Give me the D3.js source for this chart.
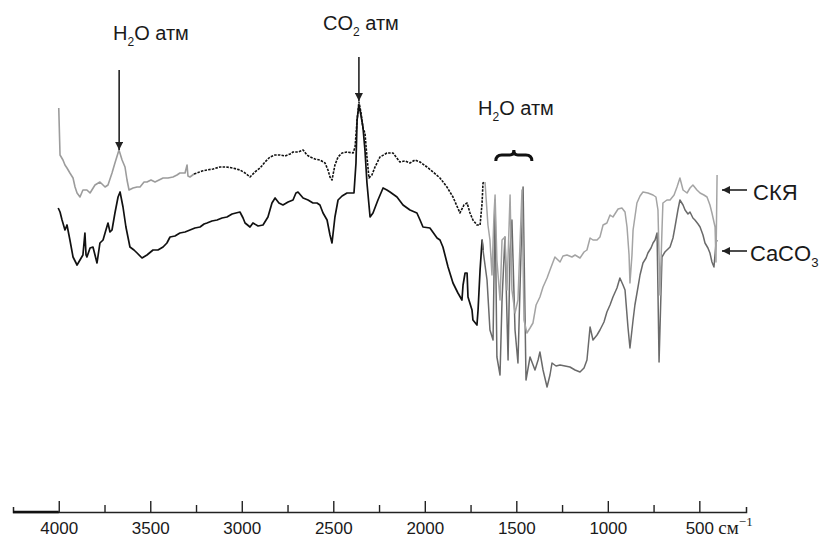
<!DOCTYPE html>
<html>
<head>
<meta charset="utf-8">
<script src="https://cdn.jsdelivr.net/npm/d3@7"></script>
<style>
  html, body { margin: 0; padding: 0; background: #fff; }
  svg text { font-family: "Liberation Sans", Arial, sans-serif; fill: #1a1a1a; }
</style>
</head>
<body>
<div id="spectra"></div>
<script>
// СКЯ (upper trace): wavenumber, cm-1 / transmittance, a.u.
const skyaWn = [4000, 3993, 3977, 3966, 3955, 3939, 3922, 3911, 3900, 3884, 3868, 3846, 3829, 3802, 3775, 3747, 3731, 3709, 3693, 3671,
  3654, 3638, 3627, 3616, 3594, 3572, 3556, 3534, 3518, 3496, 3474, 3452, 3430, 3403, 3376, 3354, 3338, 3310, 3299, 3294,
  3283, 3261, 3245, 3217, 3190, 3157, 3119, 3086, 3048, 3010, 2982, 2955, 2928, 2900, 2873, 2846, 2818, 2791, 2764, 2736,
  2720, 2693, 2665, 2644, 2627, 2600, 2573, 2545, 2529, 2518, 2507, 2491, 2474, 2452, 2425, 2392, 2381, 2370, 2360, 2349,
  2338, 2327, 2316, 2305, 2289, 2272, 2245, 2207, 2174, 2136, 2108, 2081, 2054, 2026, 1988, 1955, 1917, 1879, 1846, 1808,
  1786, 1769, 1753, 1737, 1715, 1698, 1687, 1682, 1671, 1655, 1644, 1633, 1622, 1616, 1606, 1589, 1578, 1562, 1551, 1534,
  1524, 1507, 1491, 1469, 1458, 1442, 1425, 1409, 1392, 1371, 1354, 1332, 1316, 1289, 1261, 1245, 1223, 1196, 1179, 1152,
  1130, 1114, 1097, 1081, 1059, 1043, 1026, 1005, 988, 972, 944, 923, 906, 895, 884, 879, 868, 862, 841, 824,
  808, 781, 753, 737, 726, 715, 704, 699, 677, 660, 638, 622, 606, 589, 567, 551, 535, 513, 496, 475,
  458, 442, 431, 414, 409, 403];
const skyaT = [292, 245, 240, 235, 232, 227, 222, 213, 207, 203, 210, 210, 207, 215, 218, 213, 215, 227, 237, 250,
  240, 233, 220, 210, 212, 213, 213, 218, 218, 220, 218, 220, 222, 222, 223, 225, 227, 227, 235, 224,
  223, 226, 227, 229, 230, 231, 233, 233, 232, 230, 227, 223, 228, 232, 238, 243, 245, 245, 244, 246,
  248, 248, 250, 245, 243, 241, 240, 237, 230, 223, 220, 235, 243, 247, 248, 247, 253, 280, 298, 288,
  272, 267, 243, 222, 225, 233, 243, 247, 247, 238, 239, 237, 240, 238, 233, 228, 222, 213, 203, 187,
  195, 197, 187, 180, 175, 175, 197, 217, 218, 175, 160, 125, 185, 205, 140, 100, 160, 163, 110, 205,
  110, 87, 100, 210, 80, 67, 72, 77, 95, 103, 113, 122, 130, 143, 138, 144, 145, 143, 145, 142,
  148, 150, 162, 160, 160, 163, 175, 177, 185, 183, 191, 192, 188, 173, 145, 117, 145, 170, 197, 204,
  208, 207, 205, 203, 190, 105, 170, 197, 200, 200, 205, 213, 222, 210, 207, 212, 215, 210, 207, 205,
  203, 195, 187, 173, 138, 225];

// CaCO3 (lower trace)
const caco3Wn = [4003, 3993, 3982, 3966, 3955, 3939, 3922, 3900, 3884, 3868, 3857, 3851, 3846, 3829, 3813, 3802, 3791, 3775, 3758, 3747,
  3731, 3720, 3709, 3693, 3676, 3665, 3649, 3633, 3611, 3589, 3572, 3545, 3518, 3485, 3458, 3430, 3409, 3392, 3365, 3338,
  3310, 3283, 3256, 3228, 3206, 3190, 3163, 3135, 3108, 3081, 3053, 3032, 3010, 2993, 2982, 2955, 2939, 2911, 2884, 2857,
  2835, 2818, 2797, 2775, 2747, 2720, 2704, 2693, 2665, 2638, 2611, 2589, 2573, 2556, 2534, 2518, 2507, 2491, 2474, 2452,
  2425, 2387, 2376, 2370, 2360, 2349, 2338, 2327, 2316, 2299, 2283, 2256, 2228, 2207, 2190, 2152, 2119, 2081, 2043, 2026,
  2010, 1972, 1933, 1917, 1901, 1873, 1846, 1819, 1797, 1791, 1780, 1769, 1764, 1742, 1737, 1715, 1709, 1698, 1687, 1682,
  1660, 1644, 1627, 1616, 1606, 1589, 1578, 1562, 1545, 1534, 1524, 1507, 1491, 1474, 1463, 1447, 1425, 1398, 1381, 1371,
  1354, 1332, 1316, 1305, 1283, 1261, 1234, 1207, 1179, 1152, 1130, 1114, 1097, 1081, 1059, 1043, 1021, 1005, 988, 972,
  950, 934, 917, 906, 890, 879, 862, 852, 835, 824, 808, 791, 781, 764, 753, 742, 731, 720, 704, 688,
  660, 644, 633, 617, 606, 589, 578, 562, 551, 535, 524, 507, 496, 480, 469, 453, 442, 431, 420, 409,
  403];
const caco3T = [192, 188, 180, 170, 175, 160, 143, 135, 140, 145, 167, 145, 143, 152, 153, 145, 137, 157, 160, 167,
  177, 168, 170, 187, 203, 208, 193, 173, 153, 150, 147, 142, 145, 150, 150, 153, 157, 163, 164, 167,
  168, 170, 172, 173, 176, 177, 179, 180, 182, 183, 186, 187, 188, 182, 177, 173, 177, 174, 175, 183,
  197, 202, 197, 195, 198, 200, 207, 208, 202, 200, 197, 197, 195, 187, 180, 165, 157, 183, 200, 204,
  207, 207, 237, 280, 295, 285, 273, 250, 217, 183, 187, 200, 212, 210, 208, 203, 195, 190, 187, 180,
  173, 172, 162, 160, 153, 133, 117, 107, 100, 115, 127, 127, 103, 90, 80, 75, 90, 130, 160, 150,
  120, 70, 60, 200, 43, 25, 100, 163, 40, 150, 180, 70, 37, 150, 213, 20, 43, 30, 40, 48,
  30, 13, 25, 37, 34, 35, 34, 33, 30, 28, 32, 40, 73, 60, 65, 70, 78, 88, 95, 103,
  112, 122, 115, 110, 73, 52, 80, 95, 113, 125, 137, 142, 147, 152, 157, 160, 167, 38, 143, 148,
  153, 162, 173, 190, 200, 195, 190, 186, 188, 182, 180, 176, 173, 165, 157, 152, 147, 138, 133, 157,
  160];

const majorTicks = [4000, 3500, 3000, 2500, 2000, 1500, 1000, 500];
const minorTicks = [3750, 3250, 2750, 2250, 1750, 1250, 750];
const seriesNames = ['СКЯ', 'CaCO'];

document.addEventListener('DOMContentLoaded', function() {
    const width = 825;
    const height = 539;
    const axisY = 512;

    const svg = d3.select('#spectra').append('svg')
        .attr('width', width)
        .attr('height', height);

    // wavenumber runs right to left, like the printed spectrum
    const x = d3.scaleLinear().domain([4250, 245]).range([13, 746]);
    const y = d3.scaleLinear().domain([0, 300]).range([400, 100]);

    const skya = skyaWn.map((w, i) => ({wn: w, t: skyaT[i]}));
    const caco3 = caco3Wn.map((w, i) => ({wn: w, t: caco3T[i]}));

    const line = d3.line()
        .x(d => x(d.wn))
        .y(d => y(d.t));

    const draw = (pts, stroke, w, dash) => {
        svg.append('path')
            .datum(pts)
            .attr('d', line)
            .attr('fill', 'none')
            .attr('stroke', stroke)
            .attr('stroke-width', w)
            .attr('stroke-linejoin', 'round')
            .attr('stroke-dasharray', dash || null);
    };

    // lower trace: black up to ~1680, then grey
    draw(caco3.filter(d => d.wn >= 1682), '#111', 1.7);
    draw(caco3.filter(d => d.wn <= 1687), '#6a6a6a', 1.5);

    // upper trace: grey / dotted black / light grey
    draw(skya.filter(d => d.wn >= 3261), '#9c9c9c', 1.6);
    draw(skya.filter(d => d.wn <= 3261 && d.wn >= 1671), '#111', 1.6, '2.5,1.2');
    draw(skya.filter(d => d.wn <= 1671), '#a4a4a4', 1.5);

    // x axis with upward ticks
    const axis = d3.axisBottom(x)
        .tickValues(majorTicks)
        .tickSizeInner(-11)
        .tickSizeOuter(-5)
        .tickPadding(10)
        .tickFormat(d3.format('d'));

    const gAxis = svg.append('g')
        .attr('transform', 'translate(0,' + axisY + ')')
        .call(axis);
    gAxis.select('.domain').attr('stroke', '#222').attr('stroke-width', 1.5);
    gAxis.selectAll('.tick line').attr('stroke', '#222').attr('stroke-width', 1.4);
    gAxis.selectAll('.tick text')
        .attr('fill', '#111')
        .style('font-size', '17px')
        .style('font-family', '"Liberation Sans", Arial, sans-serif');

    const gMinor = svg.append('g')
        .attr('transform', 'translate(0,' + axisY + ')')
        .call(d3.axisBottom(x).tickValues(minorTicks).tickSizeInner(-7).tickSizeOuter(0).tickFormat(''));
    gMinor.select('.domain').remove();
    gMinor.selectAll('.tick line').attr('stroke', '#222').attr('stroke-width', 1.4);

    // thicker stub left of 4000
    svg.append('line')
        .attr('x1', x(4250)).attr('x2', x(4000))
        .attr('y1', axisY).attr('y2', axisY)
        .attr('stroke', '#111').attr('stroke-width', 2.6);

    // unit
    const unit = svg.append('text')
        .attr('x', x(500) + 19)
        .attr('y', axisY + 22)
        .style('font-family', '"Liberation Serif", "Times New Roman", serif')
        .style('font-size', '19px');
    unit.append('tspan').text('см');
    unit.append('tspan').attr('dy', -8).style('font-size', '13px').text('−1');

    // arrow heads
    svg.append('defs').append('marker')
        .attr('id', 'head')
        .attr('viewBox', '0 0 10 10')
        .attr('refX', 10).attr('refY', 5)
        .attr('markerWidth', 10).attr('markerHeight', 8)
        .attr('markerUnits', 'userSpaceOnUse')
        .attr('orient', 'auto')
        .append('path')
        .attr('d', 'M0,0L10,5L0,10Z')
        .attr('fill', '#222');

    const arrow = (x1, y1, x2, y2) => {
        svg.append('line')
            .attr('x1', x1).attr('y1', y1)
            .attr('x2', x2).attr('y2', y2)
            .attr('stroke', '#222')
            .attr('stroke-width', 1.6)
            .attr('marker-end', 'url(#head)');
    };

    const label = (tx, ty, main, sub, rest, size) => {
        const t = svg.append('text')
            .attr('x', tx).attr('y', ty)
            .style('font-size', size + 'px');
        t.append('tspan').text(main);
        if (sub) {
            t.append('tspan').attr('dy', 6).style('font-size', (size * 0.6) + 'px').text(sub);
            t.append('tspan').attr('dy', -6).text(rest);
        }
    };

    // atmospheric bands
    label(113, 40, 'H', '2', 'O атм', 20);
    arrow(x(3670), 70, x(3670), 150);

    label(323, 30, 'CO', '2', ' атм', 20);
    arrow(x(2360), 57, x(2360), 101);

    label(478, 115, 'H', '2', 'O атм', 20);
    const bx1 = x(1612), bx2 = x(1415), bm = (bx1 + bx2) / 2, by = 155;
    svg.append('path')
        .attr('d', 'M' + bx1 + ',' + (by + 6) + 'Q' + bx1 + ',' + by + ' ' + (bx1 + 6) + ',' + by +
            'L' + (bm - 4) + ',' + by + 'Q' + bm + ',' + by + ' ' + bm + ',' + (by - 5) +
            'Q' + bm + ',' + by + ' ' + (bm + 4) + ',' + by +
            'L' + (bx2 - 6) + ',' + by + 'Q' + bx2 + ',' + by + ' ' + bx2 + ',' + (by + 6))
        .attr('fill', 'none')
        .attr('stroke', '#111')
        .attr('stroke-width', 3);

    // series labels on the right
    arrow(747, 190, 722, 190);
    label(753, 200, seriesNames[0], null, null, 22);
    arrow(747, 251, 722, 251);
    label(750, 261, seriesNames[1], '3', '', 22);
});
</script>
</body>
</html>
